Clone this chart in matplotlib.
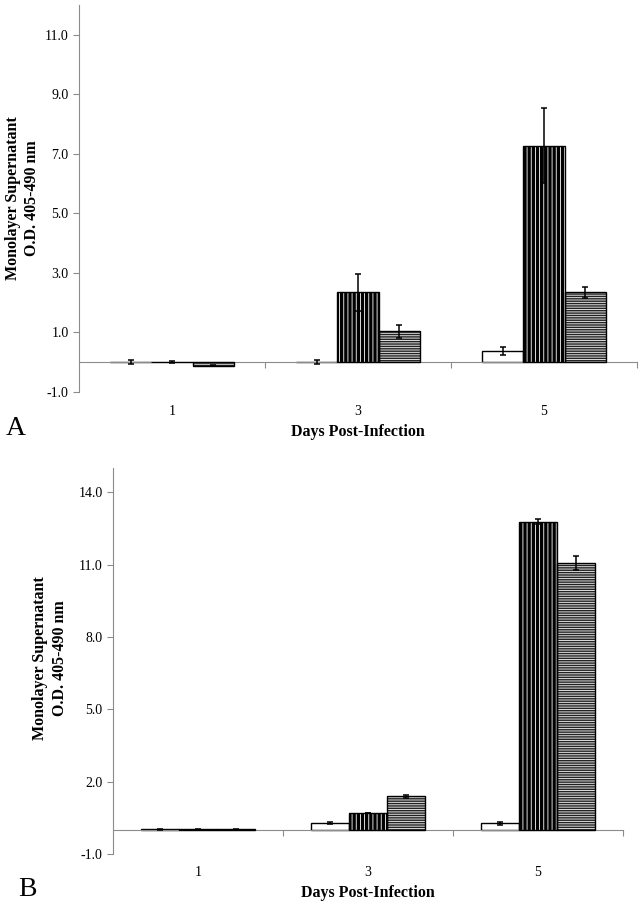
import matplotlib
matplotlib.use("Agg")
import matplotlib.pyplot as plt
import numpy as np

plt.rcParams['font.family'] = ['Liberation Serif', 'DejaVu Serif']
plt.rcParams['hatch.linewidth'] = 0.8

days = ['1', '3', '5']

# Panel A
a_white = [0.02, 0.01, 0.37]
a_white_err = [0.07, 0.08, 0.13]
a_vert = [0.02, 2.35, 7.28]
a_vert_err = [0.03, 0.63, 1.25]
a_horiz = [-0.11, 1.04, 2.35]
a_horiz_err = [0.03, 0.22, 0.18]
a_yticks = [-1.0, 1.0, 3.0, 5.0, 7.0, 9.0, 11.0]

# Panel B
b_white = [0.02, 0.29, 0.27]
b_white_err = [0.01, 0.03, 0.05]
b_vert = [0.02, 0.70, 12.78]
b_vert_err = [0.01, 0.02, 0.10]
b_horiz = [0.02, 1.39, 11.05]
b_horiz_err = [0.01, 0.06, 0.29]
b_yticks = [-1.0, 2.0, 5.0, 8.0, 11.0, 14.0]

W, H = 642, 907
fig = plt.figure(figsize=(W / 100, H / 100), dpi=100)

GRAY = '#8c8c8c'


def set_hlw(bars, lw):
    for p in bars:
        if hasattr(p, 'set_hatch_linewidth'):
            p.set_hatch_linewidth(lw)


def panel(rect, white, white_err, vert, vert_err, horiz, horiz_err, yticks, ylim, pad):
    ax = fig.add_axes(rect)
    x = np.arange(len(days))
    w = 0.223
    # white bars
    ax.bar(x - w, white, w, color='white', edgecolor='black', linewidth=1.0, zorder=2)
    # vertical striped bars: black with thin white stripes
    b = ax.bar(x, vert, w, color='black', edgecolor='white', linewidth=0, hatch='||||', zorder=2)
    set_hlw(b, 0.6)
    ax.bar(x, vert, w, color='none', edgecolor='black', linewidth=1.0, zorder=3)
    # horizontal striped bars
    b = ax.bar(x + w, horiz, w, color='#dddddd', edgecolor='#222222', linewidth=0, hatch='-------', zorder=2)
    set_hlw(b, 1.0)
    ax.bar(x + w, horiz, w, color='none', edgecolor='black', linewidth=1.0, zorder=3)
    # error bars
    for off, vals, errs in ((-w, white, white_err), (0, vert, vert_err), (w, horiz, horiz_err)):
        ax.errorbar(x + off, vals, yerr=errs, fmt='none', ecolor='black',
                    elinewidth=1.1, capsize=2.5, capthick=1.1, zorder=4)
    ax.set_xlim(-0.5, len(days) - 0.5)
    ax.set_ylim(*ylim)
    ax.set_yticks(yticks)
    ax.set_yticklabels([f'{t:.1f}' for t in yticks], fontsize=10)
    ax.spines['top'].set_visible(False)
    ax.spines['right'].set_visible(False)
    ax.spines['left'].set_color(GRAY)
    ax.spines['bottom'].set_color(GRAY)
    ax.spines['bottom'].set_position(('data', 0))
    ax.tick_params(axis='y', colors=GRAY, labelcolor='black', length=4, width=0.8)
    ax.set_xticks(np.append(x[:-1] + 0.5, len(days) - 0.5))
    ax.set_xticklabels([])
    ax.tick_params(axis='x', which='major', colors=GRAY, length=4, width=0.8)
    ax.set_xticks(x, minor=True)
    ax.set_xticklabels(days, minor=True, fontsize=10)
    ax.tick_params(axis='x', which='minor', length=0, pad=pad, labelcolor='black')
    return ax


axA = panel([79 / W, 1 - 392 / H, 558 / W, 387 / H],
            a_white, a_white_err, a_vert, a_vert_err, a_horiz, a_horiz_err,
            a_yticks, (-1.0, 12.0), 31)
axB = panel([113 / W, 1 - 854 / H, 510 / W, 386 / H],
            b_white, b_white_err, b_vert, b_vert_err, b_horiz, b_horiz_err,
            b_yticks, (-1.0, 15.0), 26)

ylab = 'Monolayer Supernatant\nO.D. 405-490 nm'
fig.text(23 / W, 1 - 198 / H, ylab, rotation=90, ha='center', va='center',
         fontsize=11.5, fontweight='bold', linespacing=1.25)
fig.text(50 / W, 1 - 658 / H, ylab, rotation=90, ha='center', va='center',
         fontsize=11.5, fontweight='bold', linespacing=1.25)

fig.text(358 / W, 1 - 432 / H, 'Days Post-Infection', ha='center', va='center',
         fontsize=11.5, fontweight='bold')
fig.text(368 / W, 1 - 893 / H, 'Days Post-Infection', ha='center', va='center',
         fontsize=11.5, fontweight='bold')

fig.text(16 / W, 1 - 429 / H, 'A', ha='center', va='center', fontsize=20)
fig.text(27 / W, 1 - 889 / H, 'B', ha='center', va='center', fontsize=20)

fig.savefig('out.png', dpi=100)
